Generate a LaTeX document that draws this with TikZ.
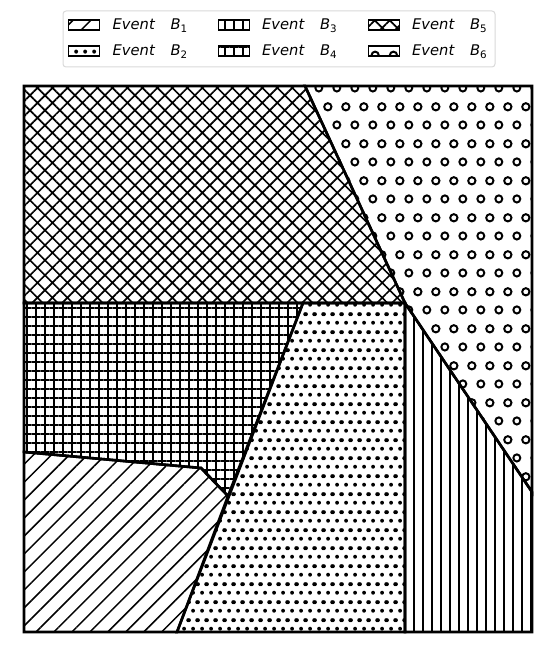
\documentclass[tikz,border=0pt]{standalone}
\usepackage{fontspec}
\setmainfont{DejaVu Sans}
\usetikzlibrary{patterns.meta}

% staggered small dots
\pgfdeclarepattern{
  name=dotgrid, type=uncolored,
  bottom left={\pgfpoint{0pt}{0pt}}, top right={\pgfpoint{9pt}{18pt}},
  tile size={\pgfpoint{9pt}{18pt}},
  code={
    \pgfpathcircle{\pgfpoint{4.5pt}{4.5pt}}{2.1pt}
    \pgfpathcircle{\pgfpoint{0pt}{13.5pt}}{2.1pt}
    \pgfpathcircle{\pgfpoint{9pt}{13.5pt}}{2.1pt}
    \pgfusepath{fill}
  }
}
% staggered open rings
\pgfdeclarepattern{
  name=ringgrid, type=uncolored,
  bottom left={\pgfpoint{0pt}{0pt}}, top right={\pgfpoint{18.3pt}{36.6pt}},
  tile size={\pgfpoint{18.3pt}{36.6pt}},
  code={
    \pgfsetlinewidth{2pt}
    \pgfpathcircle{\pgfpoint{9.15pt}{9.15pt}}{3.6pt}
    \pgfpathcircle{\pgfpoint{0pt}{27.45pt}}{3.6pt}
    \pgfpathcircle{\pgfpoint{18.3pt}{27.45pt}}{3.6pt}
    \pgfusepath{stroke}
  }
}

\newcommand\evt[1]{\textit{Event}\hspace{15.3pt}\textit{B}\raisebox{-3pt}{\fontsize{10.3}{12}\selectfont #1}}

\begin{document}
\begin{tikzpicture}[x=1pt, y=-1pt,
  region/.style={draw, line width=2.6pt, line join=miter},
  hslash/.style={pattern={Lines[angle=45, distance=12.7pt, line width=1.5pt]}},
  hdots/.style={pattern=dotgrid},
  hvert/.style={pattern={Lines[angle=90, distance=9pt, line width=1.5pt]}},
  hgrid/.style={pattern={Hatch[angle=0, distance=9pt, line width=1.5pt]}},
  hcross/.style={pattern={Hatch[angle=45, distance=10.6pt, line width=1.7pt]}},
  hring/.style={pattern=ringgrid},
  legbox/.style={draw=black!15, line width=1pt, rounded corners=3pt, fill=white},
  patchbox/.style={draw, line width=1.8pt, minimum width=31pt, minimum height=10pt,
    inner sep=0pt},
  legtext/.style={anchor=base west, inner sep=0pt, font=\fontsize{14.7}{17}\selectfont}]
\useasboundingbox (0,0) rectangle (548,650);
% corners of the plotting frame
\coordinate (tl) at (24,86);
\coordinate (tr) at (532,86);
\coordinate (br) at (532,632);
\coordinate (bl) at (24,632);
% break points of the partition
\coordinate (ts) at (305,86);
\coordinate (mj) at (405,303);
\coordinate (ml) at (24,303);
\coordinate (mg) at (303,303);
\coordinate (re) at (532,492);
\coordinate (bv) at (405,632);
\coordinate (bd) at (177,632);
\coordinate (lk) at (24,452);
\coordinate (kn) at (201,468);
\coordinate (kt) at (228,496);
% the six events
\path[region, hcross] (tl) -- (ts) -- (mj) -- (ml) -- cycle;
\path[region, hring] (ts) -- (tr) -- (re) -- (mj) -- cycle;
\path[region, hvert] (mj) -- (re) -- (br) -- (bv) -- cycle;
\path[region, hdots] (mg) -- (mj) -- (bv) -- (bd) -- cycle;
\path[region, hgrid] (ml) -- (mg) -- (kt) -- (kn) -- (lk) -- cycle;
\path[region, hslash] (lk) -- (kn) -- (kt) -- (bd) -- (bl) -- cycle;
\draw[line width=1.6pt] (tl) rectangle (br);
% legend
\node[legbox, minimum width=432pt, minimum height=56pt] (leg) at (279,39) {};
\node[patchbox, hslash] (p1) at (84,25) {};
\node[patchbox, hdots] (p2) at (84,51) {};
\node[patchbox, hvert] (p3) at (234,25) {};
\node[patchbox, hgrid] (p4) at (234,51) {};
\node[patchbox, hcross] (p5) at (384,25) {};
\node[patchbox, hring] (p6) at (384,51) {};
\node[legtext] (t1) at (112.5,29.7) {\evt{1}};
\node[legtext] (t2) at (112.5,55.5) {\evt{2}};
\node[legtext] (t3) at (262,29.7) {\evt{3}};
\node[legtext] (t4) at (262,55.5) {\evt{4}};
\node[legtext] (t5) at (412,29.7) {\evt{5}};
\node[legtext] (t6) at (412,55.5) {\evt{6}};
\end{tikzpicture}
\end{document}
